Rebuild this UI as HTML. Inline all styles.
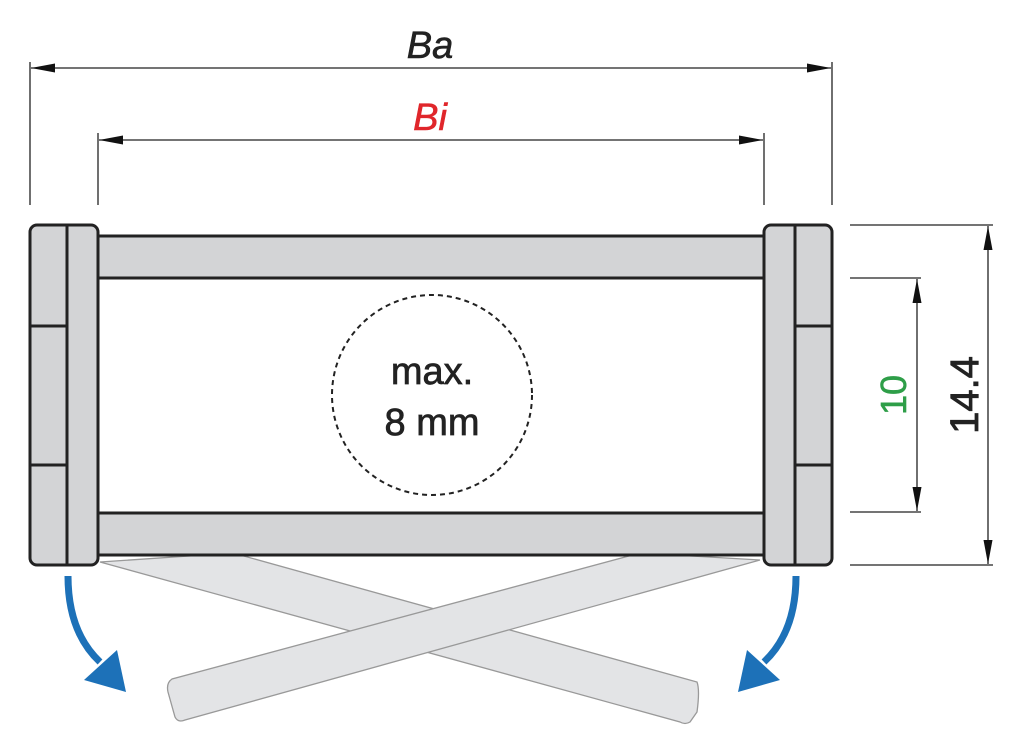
<!DOCTYPE html>
<html><head><style>body{margin:0;background:#fff}svg{display:block}</style></head>
<body>
<svg width="1024" height="742" viewBox="0 0 1024 742" xmlns="http://www.w3.org/2000/svg" font-family="Liberation Sans, sans-serif">
<defs>
<marker id="a" viewBox="0 0 10 10" refX="10" refY="5" markerWidth="24" markerHeight="9" orient="auto-start-reverse" markerUnits="userSpaceOnUse" preserveAspectRatio="none"><path d="M0,0L10,5L0,10z" fill="#111"/></marker>
</defs>
<path d="M100,562 L233,553 L697,682 Q700,690 697,712 L690,722 Q685,725 680,722 Z" fill="#e3e4e6" stroke="#999" stroke-width="1.3"/>
<path d="M760,560 L640,553 L172,679 Q166,683 168,692 L175,717 Q178,723 185,720 Z" fill="#e3e4e6" stroke="#999" stroke-width="1.3"/>
<g stroke="#222" stroke-width="1.3" fill="none">
<line x1="30" y1="62" x2="30" y2="205"/><line x1="832" y1="62" x2="832" y2="205"/>
<line x1="98" y1="133" x2="98" y2="205"/><line x1="764" y1="133" x2="764" y2="205"/>
<line x1="31" y1="68" x2="831" y2="68" marker-start="url(#a)" marker-end="url(#a)"/>
<line x1="99" y1="140" x2="763" y2="140" marker-start="url(#a)" marker-end="url(#a)"/>
<line x1="850" y1="225" x2="993" y2="225"/><line x1="850" y1="565" x2="993" y2="565"/>
<line x1="850" y1="278" x2="921" y2="278"/><line x1="850" y1="512" x2="921" y2="512"/>
<line x1="988" y1="226" x2="988" y2="564" marker-start="url(#a)" marker-end="url(#a)"/>
<line x1="917" y1="279" x2="917" y2="511" marker-start="url(#a)" marker-end="url(#a)"/>
</g>
<text x="430" y="58" font-size="38" font-style="italic" text-anchor="middle" fill="#222" stroke="#222" stroke-width="0.6">Ba</text>
<text x="430" y="130" font-size="38" font-style="italic" text-anchor="middle" fill="#e0262b" stroke="#e0262b" stroke-width="0.6">Bi</text>
<text transform="translate(978,395) rotate(-90)" font-size="40" text-anchor="middle" fill="#222" stroke="#222" stroke-width="0.8">14.4</text>
<text transform="translate(906,395) rotate(-90)" font-size="36" text-anchor="middle" fill="#2e9e48" stroke="#2e9e48" stroke-width="0.6">10</text>
<g stroke="#222" stroke-width="3" fill="#d3d4d6">
<rect x="98" y="236" width="666" height="42"/>
<rect x="98" y="513" width="666" height="42"/>
<rect x="30" y="225" width="68" height="340" rx="7"/>
<rect x="764" y="225" width="68" height="340" rx="7"/>
<line x1="67" y1="225" x2="67" y2="565"/><line x1="30" y1="326" x2="67" y2="326"/><line x1="30" y1="465" x2="67" y2="465"/>
<line x1="795" y1="225" x2="795" y2="565"/><line x1="795" y1="326" x2="832" y2="326"/><line x1="795" y1="465" x2="832" y2="465"/>
</g>
<circle cx="432" cy="395" r="100" fill="none" stroke="#222" stroke-width="2" stroke-dasharray="5,4"/>
<text x="432" y="384" font-size="38" text-anchor="middle" fill="#222" stroke="#222" stroke-width="0.7">max.</text>
<text x="432" y="435" font-size="38" text-anchor="middle" fill="#222" stroke="#222" stroke-width="0.7">8 mm</text>
<g fill="none" stroke="#1d71b8" stroke-width="7">
<path d="M68,576 Q68,632 100,662"/>
<path d="M796,576 Q796,632 764,662"/>
</g>
<path d="M84,680 L117,650 L126,692 Z" fill="#1d71b8"/>
<path d="M780,680 L747,650 L738,692 Z" fill="#1d71b8"/>
</svg>
</body></html>
